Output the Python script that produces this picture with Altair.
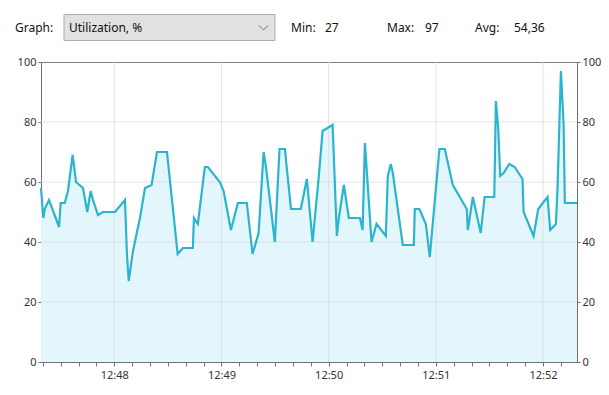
import altair as alt
import pandas as pd

# seconds after 12:47:19 and utilization (%)
secs = [0, 1.3, 2.1, 4.5, 10.1, 11.0, 13.3, 15.1, 17.7, 19.6,
        23.5, 25.9, 27.8, 29.1, 31.9, 34.7, 41.4, 47.0, 48.1, 49.1,
        51.5, 54.3, 55.4, 58.2, 61.9, 64.9, 70.5, 76.5, 79.4, 85.0,
        85.6, 87.8, 91.7, 93.4, 100.1, 102.2, 106.3, 110.2, 115.2, 118.4,
        121.8, 124.6, 125.9, 130.9, 133.5, 136.5, 139.9, 145.4, 148.8, 152.0,
        155.5, 157.6, 163.2, 165.6, 166.7, 169.5, 172.3, 178.5, 180.0, 181.3,
        182.2, 185.0, 187.8, 193.0, 194.1, 195.8, 196.9, 202.5, 208.7, 209.2,
        211.8, 215.4, 217.6, 223.0, 226.0, 230.5, 238.3, 238.9, 241.7, 246.1,
        248.3, 253.7, 254.6, 255.9, 257.0, 258.9, 262.1, 265.1, 269.5, 270.1,
        275.7, 278.3, 283.5, 285.0, 288.2, 289.1, 291.0, 292.5, 293.2, 300.0]
util = [58, 48, 51, 54, 45, 53, 53, 57, 69, 60,
        58, 50, 57, 54, 49, 50, 50, 54, 36, 27,
        37, 45, 48, 58, 59, 70, 70, 36, 38, 38,
        48, 46, 65, 65, 60, 57, 44, 53, 53, 36,
        43, 70, 65, 40, 71, 71, 51, 51, 61, 40,
        62, 77, 79, 42, 48, 59, 48, 48, 44, 73,
        65, 40, 46, 42, 62, 66, 63, 39, 39, 51,
        51, 46, 35, 71, 71, 59, 51, 44, 55, 43,
        55, 55, 87, 78, 62, 63, 66, 65, 61, 50,
        42, 51, 55, 44, 46, 58, 97, 79, 53, 53]

start_time = "2024-01-01 12:47:19"
minute_marks = ["12:48", "12:49", "12:50", "12:51", "12:52"]
y_ticks = [0, 20, 40, 60, 80, 100]
y_grid = [20, 40, 60, 80]

graph_label = "Graph:"
graph_choice = "Utilization, %"
stats = [("Min:", "27"), ("Max:", "97"), ("Avg:", "54,36")]

FONT = "Noto Sans"
LINE = "#2BB4CE"
FILL = "#E2F6FC"

base = pd.Timestamp(start_time)
times = [(base + pd.Timedelta(seconds=s)).strftime("%Y-%m-%dT%H:%M:%S.%f")[:-3] for s in secs]
df = pd.DataFrame({"time": times, "util": util})

def dt(h, m, s):
    return alt.DateTime(year=2024, month=1, date=1, hours=h, minutes=m, seconds=s)

x_domain = [dt(12, 47, 19), dt(12, 52, 19)]
tick_vals = []
for m in range(47, 53):
    for s in range(0, 60, 10):
        if (m == 47 and s < 20) or (m == 52 and s > 10):
            continue
        tick_vals.append(dt(12, m, s))

xscale = alt.Scale(domain=x_domain)
yscale = alt.Scale(domain=[0, 100], nice=False)

x_axis = alt.Axis(values=tick_vals, grid=False, title=None, tickSize=4,
                  labelPadding=3, labelOverlap=False, labelFlush=False,
                  labelExpr="seconds(datum.value) == 0 ? timeFormat(datum.value, '%H:%M') : ''")
y_left = alt.Axis(values=y_ticks, grid=False, title=None, tickSize=3, labelPadding=2, orient="left")
y_right = alt.Axis(values=y_ticks, grid=False, title=None, tickSize=3, labelPadding=2, orient="right")

area = alt.Chart(df).mark_area(color=FILL, interpolate="linear").encode(
    x=alt.X("time:T", scale=xscale, axis=x_axis),
    y=alt.Y("util:Q", scale=yscale, axis=y_left),
)

grid_df_v = pd.DataFrame({"time": [f"2024-01-01T{m}:00" for m in minute_marks]})
vgrid = alt.Chart(grid_df_v).mark_rule(color="#DCDCDC", strokeWidth=1, opacity=0.8).encode(
    x=alt.X("time:T", scale=xscale, axis=x_axis)
)
grid_df_h = pd.DataFrame({"v": y_grid})
hgrid = alt.Chart(grid_df_h).mark_rule(color="#DCDCDC", strokeWidth=1, opacity=0.8).encode(
    y=alt.Y("v:Q", scale=yscale, axis=None)
)

line = alt.Chart(df).mark_line(color=LINE, strokeWidth=2.2, interpolate="linear").encode(
    x=alt.X("time:T", scale=xscale, axis=x_axis),
    y=alt.Y("util:Q", scale=yscale, axis=y_right),
)

one = pd.DataFrame({"k": [0]})

def txt(label, x, y=-34, size=12, color="#111111"):
    return alt.Chart(pd.DataFrame({"t": [label]})).mark_text(
        align="left", baseline="middle", font=FONT, fontSize=size, color=color
    ).encode(x=alt.value(x), y=alt.value(y), text="t:N")

box = alt.Chart(one).mark_rect(fill="#E1E1E1", stroke="#ADADAD", strokeWidth=1).encode(
    x=alt.value(23), x2=alt.value(234), y=alt.value(-47.5), y2=alt.value(-21.5)
)
chev1 = alt.Chart(one).mark_rule(color="#707070", strokeWidth=1).encode(
    x=alt.value(218), x2=alt.value(222.5), y=alt.value(-36.5), y2=alt.value(-32)
)
chev2 = alt.Chart(one).mark_rule(color="#707070", strokeWidth=1).encode(
    x=alt.value(222.5), x2=alt.value(227), y=alt.value(-32), y2=alt.value(-36.5)
)

header = [txt(graph_label, -26), box, chev1, chev2, txt(graph_choice, 28)]
stat_x = [(250, 284), (346, 384), (434, 473)]
for (lab, val), (xl, xv) in zip(stats, stat_x):
    header.append(txt(lab, xl))
    header.append(txt(val, xv))

chart = alt.layer(area, vgrid, hgrid, line, *header).resolve_scale(
    y="independent"
).properties(
    width=536, height=300,
    autosize=alt.AutoSizeParams(type="none"),
    padding={"left": 33, "top": 54, "right": 24, "bottom": 25},
    background="white",
).configure_view(
    stroke="#808080", strokeWidth=1
).configure_axis(
    labelFont=FONT, labelFontSize=11, labelColor="#333333",
    domainColor="#707070", tickColor="#707070",
)

chart.save("out.html", embed_options={"renderer": "svg", "actions": False})
